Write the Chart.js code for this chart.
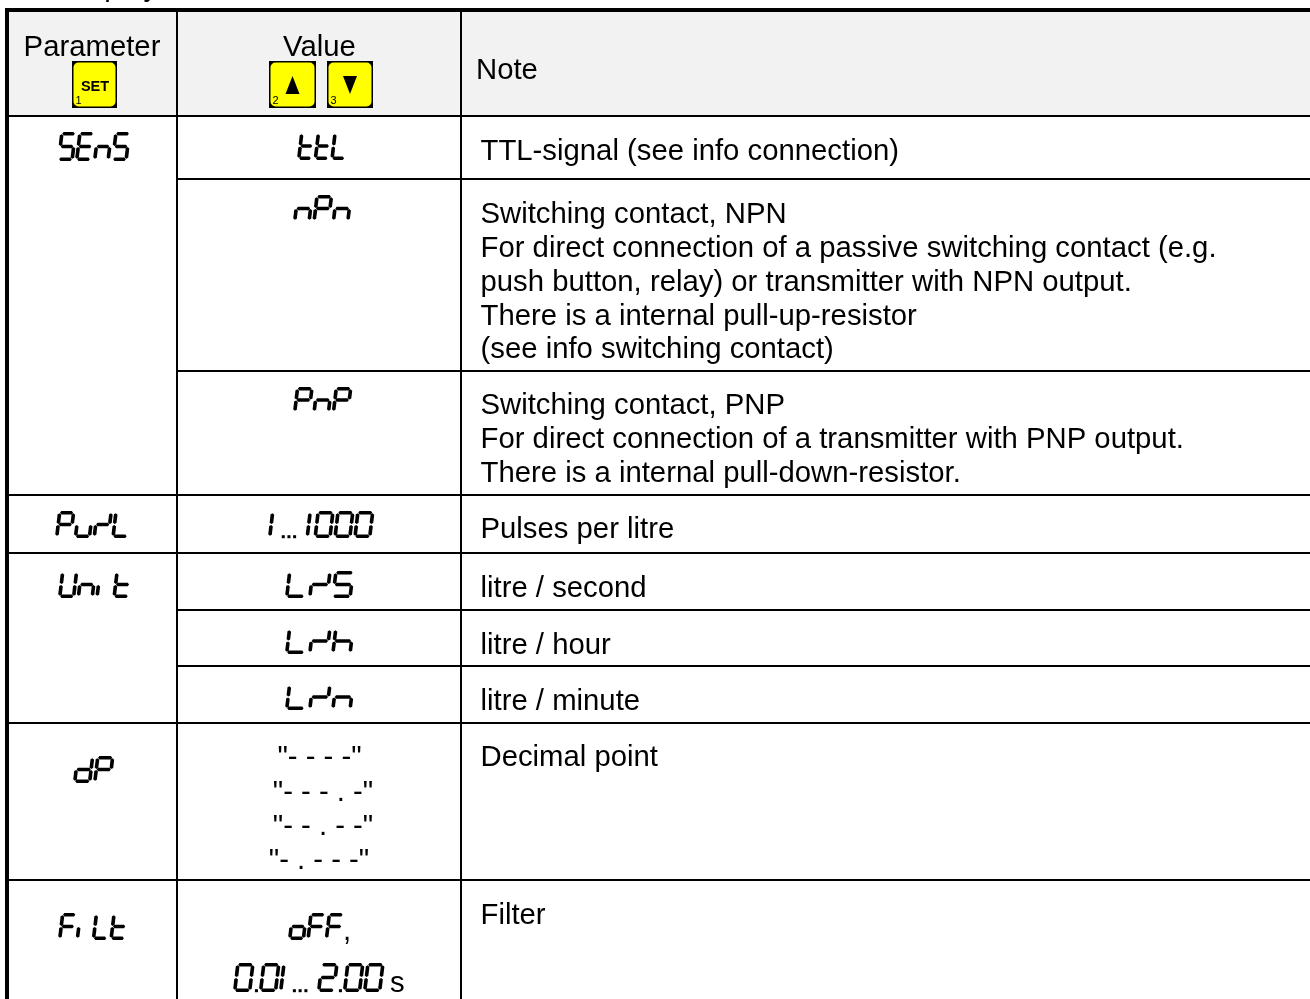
<!DOCTYPE html>
<html>
<head>
<meta charset="utf-8">
<title>Display parameters</title>
<script src="https://cdn.jsdelivr.net/npm/chart.js@4/dist/chart.umd.min.js"></script>
<style>
  html, body { margin: 0; padding: 0; background: #fff; overflow: hidden; }
  canvas { display: block; }
</style>
</head>
<body>
<canvas id="table" width="1310" height="999" role="img" aria-label="Parameter table: SEnS ttL nPn PnP, PuL 1...1000, Unit L/S L/h L/n, dP, FiLt oFF 0.01...2.00 s"></canvas>
<script>
const headers = ['Parameter', 'Value', 'Note'];
const caption = 'Display';

const parameters = ['SEnS', 'Pu/L', 'Uni t', 'dP', 'Fi Lt'];
const values = ['ttL', 'nPn', 'PnP', '1…1000', 'L/S', 'L/h', 'L/n', 'oFF', '0.01…2.00'];
const decimalPoints = ['"- - - -"', '"- - - . -"', '"- - . - -"', '"- . - - -"'];
const notes = [
  'TTL-signal (see info connection)',
  'Switching contact, NPN',
  'For direct connection of a passive switching contact (e.g.',
  'push button, relay) or transmitter with NPN output.',
  'There is a internal pull-up-resistor',
  '(see info switching contact)',
  'Switching contact, PNP',
  'For direct connection of a transmitter with PNP output.',
  'There is a internal pull-down-resistor.',
  'Pulses per litre',
  'litre / second',
  'litre / hour',
  'litre / minute',
  'Decimal point',
  'Filter',
];

// page layout, in scale units (scale = page pixels)
const noteBaselines = [160, 223, 257, 291, 325, 358, 414, 448, 482, 538, 597, 654, 710, 766, 924];
const decimalBaselines = [766, 801, 835, 869];
const decimalCentres = [319.5, 323, 323, 319];
// left, right, bottom, height of each seven segment string
const parameterBoxes = [[57, 128, 161, 29], [55, 129, 538, 27], [58, 130, 598, 27], [73, 112, 783, 27], [58, 126, 940, 27]];
const valueBoxes = [
  [297, 346, 160, 28], [293, 350, 222, 27], [293, 350, 413, 26],
  [268, 372, 538, 27], [285, 353, 598, 27], [285, 353, 654, 26], [285, 353, 710, 26],
  [288, 342, 940, 27], [233, 382, 992, 29],
];
const fullRules = [116, 495, 553, 723, 880];
const partRules = [179, 371, 610, 666];
const columnRules = [177, 461];

const FONT = '"Liberation Sans", Arial, sans-serif';
const TEXT_SIZE = 29.3;
const INK = '#000';

// seven segment glyphs, a top, b upper right, c lower right, d bottom, e lower left, f upper left, g middle
const glyphs = {
  S: 'afgcd', E: 'afged', n: 'egc', t: 'fegd', L: 'fed', P: 'abfge', u: 'edc', '/': 'egb',
  U: 'fedcb', i: 'c', h: 'fegc', d: 'bcdeg', F: 'afge', o: 'egcd', '0': 'abcdef', '1': 'bc', '2': 'abged',
};
const advances = { '1': 7, i: 7, '.': 5, '…': 26, ' ': 9 };

function segmentEnds(seg, w, h) {
  const m = h / 2;
  return {
    a: [0, h, w, h], g: [0, m, w, m], d: [0, 0, w, 0],
    b: [w, h, w, m], c: [w, m, w, 0], f: [0, h, 0, m], e: [0, m, 0, 0],
  }[seg];
}

function drawSegment(ctx, x1, y1, x2, y2) {
  // bar with chamfered ends, small gap between neighbours
  const len = Math.hypot(x2 - x1, y2 - y1);
  const ux = (x2 - x1) / len, uy = (y2 - y1) / len;
  const gap = 0.4, t = 1.8, tip = 1.3;
  const ax = x1 + ux * gap, ay = y1 + uy * gap, bx = x2 - ux * gap, by = y2 - uy * gap;
  const nx = -uy * t, ny = ux * t;
  ctx.beginPath();
  ctx.moveTo(ax, ay);
  ctx.lineTo(ax + ux * tip + nx, ay + uy * tip + ny);
  ctx.lineTo(bx - ux * tip + nx, by - uy * tip + ny);
  ctx.lineTo(bx, by);
  ctx.lineTo(bx - ux * tip - nx, by - uy * tip - ny);
  ctx.lineTo(ax + ux * tip - nx, ay + uy * tip - ny);
  ctx.closePath();
  ctx.fill();
}

function drawSevenSegment(ctx, chart, text, box) {
  const [left, right, bottom, height] = box;
  const px = chart.scales.x.getPixelForValue(left);
  const pr = chart.scales.x.getPixelForValue(right);
  const base = chart.scales.y.getPixelForValue(bottom) - 1.8;
  const h = height - 3.6;
  const skew = 0.12;
  const chars = Array.from(text);
  const natural = chars.reduce((sum, c) => sum + (advances[c] || 17.5), 0) - 1;
  const sx = (pr - px) / natural;
  let x = px + 1.8;
  ctx.fillStyle = INK;
  chars.forEach(c => {
    const w = 13 * sx;
    const place = (gx, gy) => [x + gx + gy * skew, base - gy];
    if (c === '.' || c === '…') {
      const n = c === '.' ? 1 : 3;
      const lead = c === '.' ? 0 : 4;
      for (let i = 0; i < n; i++) ctx.fillRect(x + lead + i * 5 * sx, base - 1, 3, 3);
    } else if (glyphs[c]) {
      const narrow = advances[c] === 7;
      const gw = narrow ? 0 : w;
      for (const seg of glyphs[c]) {
        const [x1, y1, x2, y2] = segmentEnds(seg, gw, h);
        const [a, b] = place(x1, y1);
        const [d, e] = place(x2, y2);
        drawSegment(ctx, a, b, d, e);
      }
    }
    x += (advances[c] || 17.5) * sx;
  });
}

function drawText(ctx, chart, text, x, y, size, align, weight) {
  ctx.font = (weight || 'normal') + ' ' + size + 'px ' + FONT;
  ctx.textAlign = align || 'left';
  ctx.textBaseline = 'alphabetic';
  ctx.fillStyle = INK;
  ctx.fillText(text, chart.scales.x.getPixelForValue(x), chart.scales.y.getPixelForValue(y));
}

function drawKey(ctx, chart, left, right, label, number) {
  const sx = chart.scales.x, sy = chart.scales.y;
  const x = sx.getPixelForValue(left), y = sy.getPixelForValue(61);
  const w = sx.getPixelForValue(right) - x, h = sy.getPixelForValue(108) - y;
  ctx.fillStyle = '#000';
  ctx.fillRect(x, y, w, h);
  ctx.fillStyle = '#ffff00';
  ctx.beginPath();
  ctx.roundRect(x + 1.5, y + 1.5, w - 3, h - 3, 5);
  ctx.fill();
  drawText(ctx, chart, number, left + 3.5, 104, 11);
  const mid = (left + right) / 2;
  if (label === 'SET') {
    drawText(ctx, chart, label, mid + 0.5, 91, 14.5, 'center', 'bold');
  } else {
    // arrow keys
    const tipY = label === 'up' ? 76 : 94, baseY = label === 'up' ? 94 : 76;
    ctx.fillStyle = INK;
    ctx.beginPath();
    ctx.moveTo(sx.getPixelForValue(mid), sy.getPixelForValue(tipY));
    ctx.lineTo(sx.getPixelForValue(mid - 7), sy.getPixelForValue(baseY));
    ctx.lineTo(sx.getPixelForValue(mid + 7), sy.getPixelForValue(baseY));
    ctx.closePath();
    ctx.fill();
  }
}

const tablePlugin = {
  id: 'tableCells',
  beforeDatasetsDraw(chart) {
    const sx = chart.scales.x, sy = chart.scales.y, ctx = chart.ctx;
    ctx.fillStyle = '#f2f2f2';
    ctx.fillRect(sx.getPixelForValue(9), sy.getPixelForValue(12), sx.getPixelForValue(1310) - sx.getPixelForValue(9), sy.getPixelForValue(115) - sy.getPixelForValue(12));
  },
  afterDatasetsDraw(chart) {
    const ctx = chart.ctx;
    ctx.save();
    drawText(ctx, chart, caption, 62, -4, TEXT_SIZE);
    drawText(ctx, chart, headers[0], 92, 56, TEXT_SIZE, 'center');
    drawText(ctx, chart, headers[1], 319.5, 56, TEXT_SIZE, 'center');
    drawText(ctx, chart, headers[2], 476, 79, TEXT_SIZE);
    drawKey(ctx, chart, 72, 117, 'SET', '1');
    drawKey(ctx, chart, 269, 316, 'up', '2');
    drawKey(ctx, chart, 327, 373, 'down', '3');
    notes.forEach((n, i) => drawText(ctx, chart, n, 480.5, noteBaselines[i], TEXT_SIZE));
    decimalPoints.forEach((d, i) => drawText(ctx, chart, d, decimalCentres[i], decimalBaselines[i], TEXT_SIZE, 'center'));
    parameters.forEach((p, i) => drawSevenSegment(ctx, chart, p, parameterBoxes[i]));
    values.forEach((v, i) => drawSevenSegment(ctx, chart, v, valueBoxes[i]));
    drawText(ctx, chart, ',', 343, 940, TEXT_SIZE);
    drawText(ctx, chart, 's', 390, 992, TEXT_SIZE);
    ctx.restore();
  },
};

function rule(points, width) {
  return { data: points, borderColor: INK, borderWidth: width, showLine: true, pointRadius: 0, borderCapStyle: 'butt', fill: false };
}

const datasets = [
  rule([{ x: 5, y: 10 }, { x: 1310, y: 10 }], 4),
  rule([{ x: 7, y: 8 }, { x: 7, y: 999 }], 4),
  ...columnRules.map(x => rule([{ x: x, y: 12 }, { x: x, y: 999 }], 2)),
  ...fullRules.map(y => rule([{ x: 9, y: y }, { x: 1310, y: y }], 2)),
  ...partRules.map(y => rule([{ x: 178, y: y }, { x: 1310, y: y }], 2)),
];

const tableChart = new Chart(document.getElementById('table'), {
  type: 'scatter',
  data: { datasets: datasets },
  options: {
    responsive: false,
    animation: false,
    layout: { padding: 0 },
    plugins: { legend: { display: false }, tooltip: { enabled: false }, title: { display: false } },
    scales: {
      x: { type: 'linear', min: 0, max: 1310, display: false },
      y: { type: 'linear', min: 0, max: 999, reverse: true, display: false },
    },
  },
  plugins: [tablePlugin],
});
</script>
</body>
</html>
